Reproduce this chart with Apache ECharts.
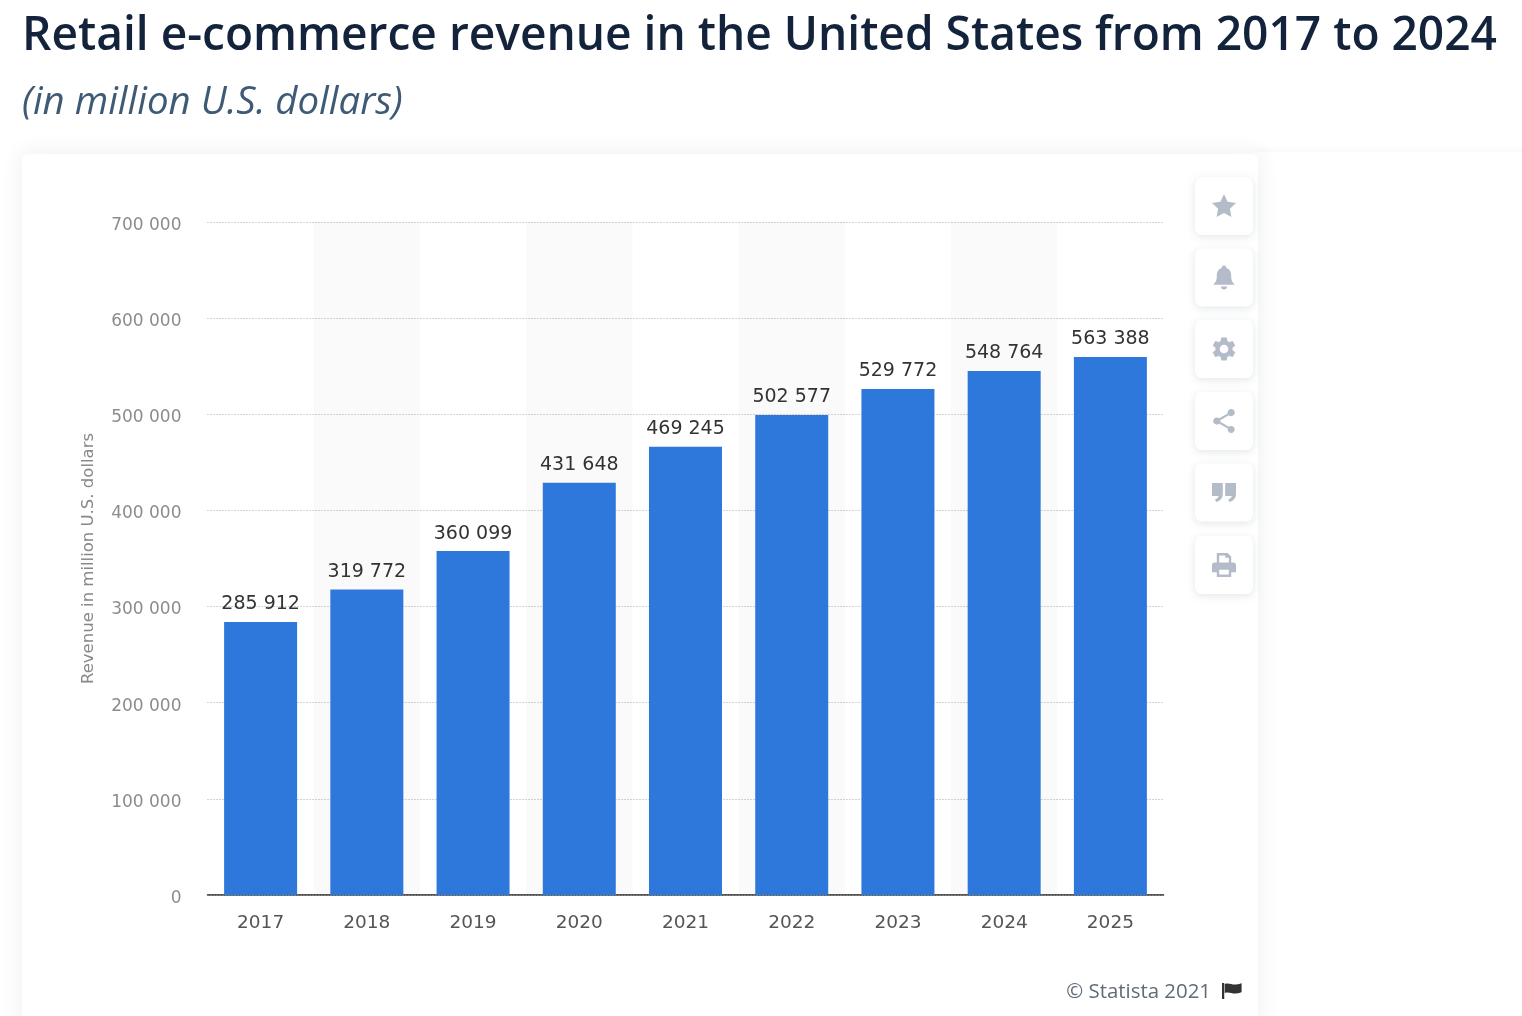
<!DOCTYPE html>
<html>
<head>
<meta charset="utf-8">
<title>Retail e-commerce revenue</title>
<script src="https://cdn.jsdelivr.net/npm/echarts@6/dist/echarts.min.js"></script>
<style>
html, body { margin: 0; padding: 0; background: #fff; }
#main { width: 1522px; height: 1016px; }
</style>
</head>
<body>
<div id="main"></div>
<script>
// data
var years = ['2017', '2018', '2019', '2020', '2021', '2022', '2023', '2024', '2025'];
var revenue = [285912, 319772, 360099, 431648, 469245, 502577, 529772, 548764, 563388];

var titleText = 'Retail e-commerce revenue in the United States from 2017 to 2024';
var subtitleText = '(in million U.S. dollars)';
var yAxisName = 'Revenue in million U.S. dollars';
var creditText = '© Statista 2021';

// side button icons
var iconPaths = [
  'M12 2l3 6.5 7 .9-5.1 4.8 1.3 7L12 17.8 5.8 21.2l1.3-7L2 9.4l7-.9z',
  'M12 2a2 2 0 0 1 2 2c3 1 4 3.5 4 6.5 0 4 1 5.5 3 7.5H3c2-2 3-3.5 3-7.5C6 7.5 7 5 10 4a2 2 0 0 1 2-2zM9.5 19.5h5a2.5 2.5 0 0 1-5 0z',
  'M19.14 12.94c.04-.3.06-.61.06-.94 0-.32-.02-.64-.07-.94l2.03-1.58c.18-.14.23-.41.12-.61l-1.92-3.32c-.12-.22-.37-.29-.59-.22l-2.39.96c-.5-.38-1.03-.7-1.62-.94l-.36-2.54c-.04-.24-.24-.41-.48-.41h-3.84c-.24 0-.43.17-.47.41l-.36 2.54c-.59.24-1.13.57-1.62.94l-2.39-.96c-.22-.08-.47 0-.59.22L2.74 8.87c-.12.21-.08.47.12.61l2.03 1.58c-.05.3-.09.63-.09.94s.02.64.07.94l-2.03 1.58c-.18.14-.23.41-.12.61l1.92 3.32c.12.22.37.29.59.22l2.39-.96c.5.38 1.03.7 1.62.94l.36 2.54c.05.24.24.41.48.41h3.84c.24 0 .44-.17.47-.41l.36-2.54c.59-.24 1.13-.56 1.62-.94l2.39.96c.22.08.47 0 .59-.22l1.92-3.32c.12-.22.07-.47-.12-.61l-2.01-1.58zM12 15.6c-1.98 0-3.6-1.62-3.6-3.6s1.62-3.6 3.6-3.6 3.6 1.62 3.6 3.6-1.62 3.6-3.6 3.6z',
  'M18 16.08c-.76 0-1.44.3-1.96.77L8.91 12.7c.05-.23.09-.46.09-.7s-.04-.47-.09-.7l7.05-4.11c.54.5 1.25.81 2.04.81 1.66 0 3-1.34 3-3s-1.34-3-3-3-3 1.34-3 3c0 .24.04.47.09.7L8.04 9.81C7.5 9.31 6.79 9 6 9c-1.66 0-3 1.34-3 3s1.34 3 3 3c.79 0 1.5-.31 2.04-.81l7.12 4.16c-.05.21-.08.43-.08.65 0 1.61 1.31 2.92 2.92 2.92s2.92-1.31 2.92-2.92-1.31-2.92-2.92-2.92z',
  'M2 4h9v9c0 3.5-2 6-5.5 7l-1-2.2c1.8-.6 2.8-1.6 3-2.8H2zM13 4h9v9c0 3.5-2 6-5.5 7l-1-2.2c1.8-.6 2.8-1.6 3-2.8H13z',
  'M6 2h9l3 3v5h-2V6h-3V4H8v6H6zM4 10h16a2 2 0 0 1 2 2v6h-4v4H6v-4H2v-6a2 2 0 0 1 2-2zM8 16v4h8v-4z'
];
var flagPath = 'M0 0h1.6v16H0zM2 1c3-1.5 5 1 8 .5 2-.3 3-.8 4-1.2v9c-1 .5-2 1-4 1.2-3 .4-5-2-8-.5z';

function spaced(v) {
  return String(v).replace(/\B(?=(\d{3})+$)/g, ' ');
}

// graphic component has no plain path type, so register each icon as a shape
iconPaths.forEach(function (d, i) {
  echarts.graphic.registerShape('icon' + i, echarts.graphic.extendPath(d, {}));
});
echarts.graphic.registerShape('flagIcon', echarts.graphic.extendPath(flagPath, {}));

var graphics = [
  {
    type: 'rect', z: -11, silent: true,
    shape: { x: 1250, y: 152, width: 400, height: 900 },
    style: { fill: '#fff', shadowBlur: 10, shadowColor: 'rgba(40,60,90,0.05)' }
  },
  {
    type: 'rect', z: -10, silent: true,
    shape: { x: 22, y: 154, width: 1236, height: 900, r: 6 },
    style: { fill: '#fff', shadowBlur: 22, shadowColor: 'rgba(40,60,90,0.09)' }
  }
];
var iconY = [206, 277.5, 349, 421, 492.5, 565];
iconY.forEach(function (cy, i) {
  graphics.push({
    type: 'rect', z: 5, silent: true,
    shape: { x: 1195, y: cy - 29, width: 58, height: 58, r: 7 },
    style: { fill: '#fff', shadowBlur: 9, shadowOffsetY: 2, shadowColor: 'rgba(40,60,90,0.13)' }
  });
  graphics.push({
    type: 'icon' + i, z: 6, silent: true,
    x: 1209.6, y: cy - 14.4, scaleX: 1.2, scaleY: 1.2,
    style: { fill: '#b4bcc9' }
  });
});
graphics.push({
  type: 'flagIcon', z: 6, silent: true,
  x: 1222, y: 983, scaleX: 1.4,
  style: { fill: '#333' }
});

var chart = echarts.init(document.getElementById('main'));
chart.setOption({
  animation: false,
  backgroundColor: '#fff',
  textStyle: { fontFamily: 'DejaVu Sans' },
  title: [
    {
      text: titleText, left: 22, top: 14, padding: 0,
      textStyle: { fontFamily: 'Open Sans', fontWeight: 600, fontSize: 46.1, color: '#14233c' }
    },
    {
      text: subtitleText, left: 22, top: 84, padding: 0,
      textStyle: { fontFamily: 'Open Sans', fontStyle: 'italic', fontWeight: 400, fontSize: 38.4, color: '#3e5a75' }
    },
    {
      text: creditText, right: 311, top: 982, padding: 0,
      textStyle: { fontFamily: 'Open Sans', fontWeight: 400, fontSize: 20.4, color: '#5f6b78' }
    }
  ],
  graphic: graphics,
  grid: { left: 207.5, width: 956, top: 222, bottom: 121, containLabel: false },
  xAxis: {
    type: 'category',
    data: years,
    z: 0,
    axisLine: { lineStyle: { color: '#222', width: 1.5 } },
    axisTick: { show: false },
    axisLabel: { fontSize: 18.5, color: '#555', margin: 19 },
    splitLine: { show: false },
    splitArea: { show: true, areaStyle: { color: ['rgba(0,0,0,0)', '#fafafb'] } }
  },
  yAxis: [
    {
      type: 'value',
      min: 0,
      max: 700000,
      interval: 100000,
      z: 1,
      name: yAxisName,
      nameLocation: 'middle',
      nameGap: 110,
      nameTextStyle: { fontSize: 16.5, color: '#888' },
      axisLine: { show: false },
      axisTick: { show: false },
      axisLabel: {
        margin: 26,
        formatter: function (v) { return '{t|' + spaced(v) + '}'; },
        rich: { t: { fontFamily: 'DejaVu Sans', fontSize: 17, color: '#8c8c8c', padding: [7, 0, 0, 0] } }
      },
      splitLine: { lineStyle: { type: [1, 2], color: '#a6a6a6', width: 1 } }
    },
    {
      // in the source the bars stand slightly lower than the gridlines say,
      // so they get their own hidden scale
      type: 'value',
      show: false,
      min: 0,
      max: 704700,
      splitLine: { show: false }
    }
  ],
  series: [
    {
      type: 'bar',
      data: revenue,
      yAxisIndex: 1,
      barWidth: 73,
      z: 3,
      itemStyle: { color: '#2f78db' },
      label: {
        show: true,
        position: 'top',
        distance: 8,
        fontSize: 19,
        color: '#333',
        formatter: function (p) { return spaced(p.value); }
      }
    }
  ]
});
</script>
</body>
</html>
